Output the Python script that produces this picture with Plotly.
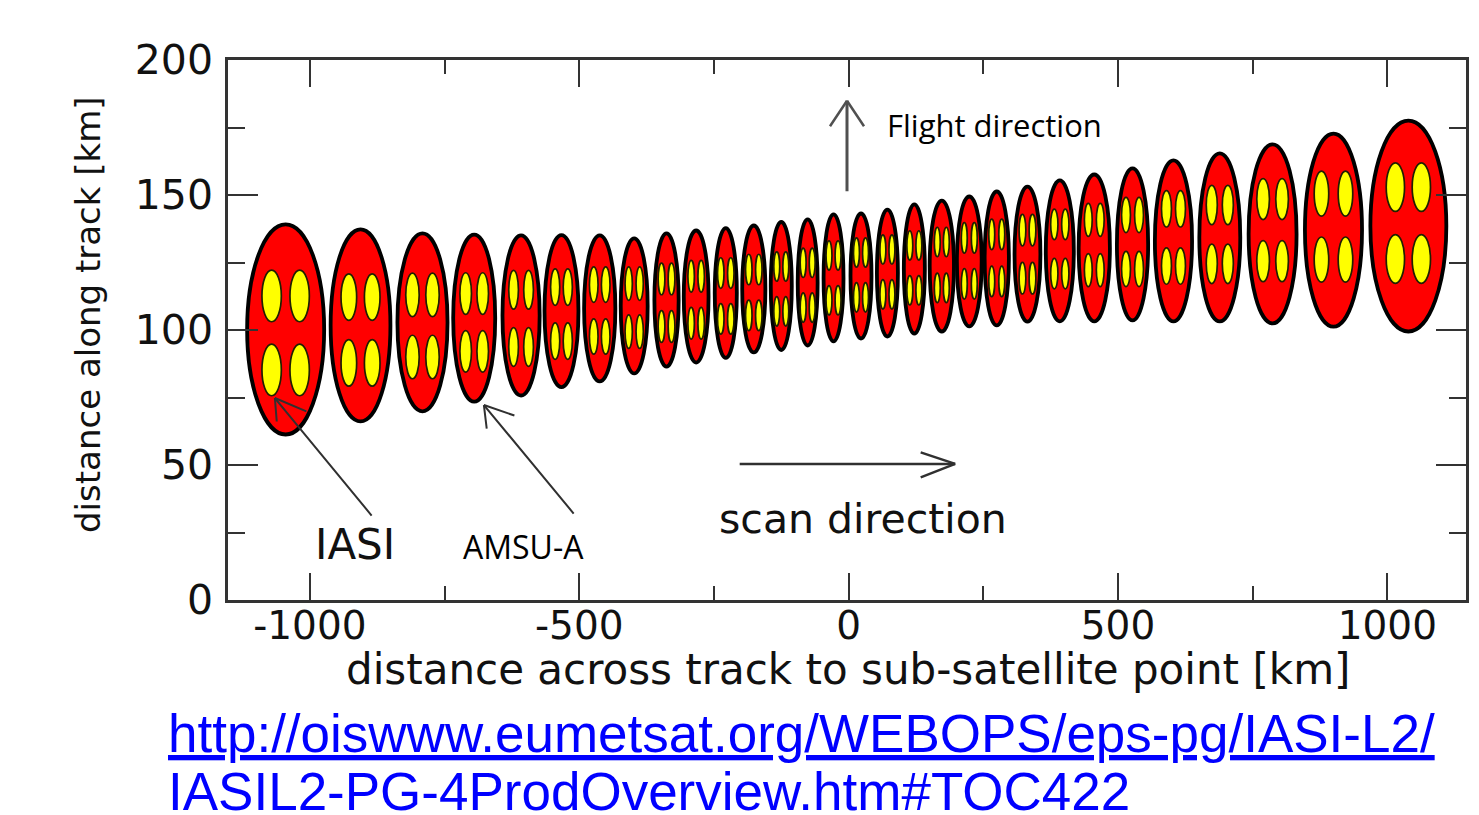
import plotly.graph_objects as go

# ---------------- data (km) ----------------
# AMSU-A footprints: centre across track, centre along track, width, height
amsu_x = [-1045, -906, -791, -695, -608, -533, -462, -398, -338, -283, -228, -176, -125, -76, -28,
          23, 72, 122, 173, 224, 275, 332, 392, 456, 527, 603, 689, 787, 900, 1039]
amsu_y = [100.2, 101.7, 102.8, 104.4, 105.4, 107.0, 108.0, 108.9, 111.1, 112.4, 113.7, 115.2, 116.3, 117.6, 119.3,
          120.0, 121.1, 122.6, 123.7, 125.4, 126.5, 128.1, 129.3, 130.4, 131.7, 133.0, 134.3, 135.6, 137.0, 138.5]
amsu_w = [143, 111, 93, 78, 69, 63, 58, 50, 45, 46, 41, 43, 39, 37, 37,
          39, 39, 39, 45, 46, 45, 48, 52, 58, 58, 69, 76, 89, 106, 141]
amsu_h = [77.8, 71.1, 65.9, 61.9, 59.3, 56.3, 54.1, 50.0, 49.3, 48.9, 48.1, 47.0, 47.4, 46.7, 47.0,
          46.3, 47.0, 47.8, 48.5, 48.1, 49.6, 50.0, 52.2, 54.4, 56.3, 59.6, 62.2, 66.3, 71.5, 78.1]

# IASI 2x2 pixels inside each footprint: group centre (along track), pixel size, offsets
iasi_y = [98.9, 100.0, 101.5, 102.8, 104.3, 105.9, 107.2, 108.3, 110.1, 111.2, 112.6, 113.9, 115.2, 116.6, 119.3,
          120.4, 121.5, 123.0, 124.1, 125.6, 126.7, 128.1, 130.0, 131.5, 132.6, 134.3, 135.4, 137.0, 138.3, 139.6]
iasi_w = [36, 29, 25, 21.5, 18, 17, 16, 13.5, 12.5, 12, 12, 12, 11, 11, 11,
          11, 11, 11, 11, 11, 11, 12.5, 13.5, 14.5, 16.5, 18.5, 20.5, 23.5, 27, 34]
iasi_h = [19.1, 17.2, 16.1, 15.4, 14.3, 13.5, 13.1, 12.4, 11.7, 11.7, 11.3, 11.3, 10.9, 10.9, 10.9,
          10.9, 10.9, 10.9, 10.9, 11.3, 11.3, 11.7, 11.3, 12.2, 13.0, 13.5, 14.6, 15.2, 16.7, 18.0]
iasi_dx = [26, 21.7, 18.6, 15.8, 13.9, 11.7, 11.1, 10.2, 9.3, 9.3, 9.3, 9.3, 8.4, 8.4, 8.4,
           8.4, 8.4, 8.4, 8.4, 9.3, 9.3, 9.3, 10.2, 11.1, 12.1, 13.0, 14.9, 17.6, 22.3, 24.1]
iasi_dy = [13.7, 12.2, 11.5, 10.7, 10.6, 10.0, 9.6, 8.9, 8.8, 8.7, 8.5, 8.5, 8.3, 8.3, 8.3,
           8.3, 8.3, 8.3, 8.5, 8.5, 8.7, 8.9, 9.1, 9.3, 10.0, 10.6, 10.9, 11.5, 12.2, 13.3]

x_ticks = [-1000, -500, 0, 500, 1000]
y_ticks = [0, 50, 100, 150, 200]

x_title = "distance across track to sub-satellite point [km]"
y_title = "distance along track [km]"
url_line1 = "http://oiswww.eumetsat.org/WEBOPS/eps-pg/IASI-L2/"
url_line2 = "IASIL2-PG-4ProdOverview.htm#TOC422"

# ---------------- figure ----------------
W, H = 1479, 815
PL, PR, PT, PB = 228, 1466, 60, 600  # plot area in page pixels


def paper_x(px):
    return (px - PL) / (PR - PL)


def paper_y(py):
    return (PB - py) / (PB - PT)


fig = go.Figure()
# invisible trace so the axes exist
fig.add_trace(go.Scatter(x=amsu_x, y=amsu_y, mode="markers", marker=dict(opacity=0),
                         hoverinfo="skip", showlegend=False))

shapes = []
for i in range(len(amsu_x)):
    cx, cy, w, h = amsu_x[i], amsu_y[i], amsu_w[i], amsu_h[i]
    shapes.append(dict(type="circle", xref="x", yref="y", layer="below",
                       x0=cx - w / 2, x1=cx + w / 2, y0=cy - h / 2, y1=cy + h / 2,
                       fillcolor="#ff0000", line=dict(color="#000000", width=3.8)))
    for sx in (-1, 1):
        for sy in (-1, 1):
            px = cx + sx * iasi_dx[i]
            py = iasi_y[i] + sy * iasi_dy[i]
            shapes.append(dict(type="circle", xref="x", yref="y", layer="below",
                               x0=px - iasi_w[i] / 2, x1=px + iasi_w[i] / 2,
                               y0=py - iasi_h[i] / 2, y1=py + iasi_h[i] / 2,
                               fillcolor="#ffff00", line=dict(color="#202000", width=1.7)))

annotations = []


def arrow(x, y, tail, barbs, color, width, barb_width=None):
    # shaft
    annotations.append(dict(x=x, y=y, xref="x", yref="y", ax=tail[0], ay=tail[1],
                            axref="pixel", ayref="pixel", showarrow=True, arrowhead=0,
                            arrowcolor=color, arrowwidth=width, text="", standoff=0,
                            startstandoff=0))
    for b in barbs:
        annotations.append(dict(x=x, y=y, xref="x", yref="y", ax=b[0], ay=b[1],
                                axref="pixel", ayref="pixel", showarrow=True, arrowhead=0,
                                arrowcolor=color, arrowwidth=barb_width or width, text="",
                                standoff=0, startstandoff=0))


# flight direction arrow
arrow(-3, 184.9, (0, 92), [(-18, 27), (18, 27)], "#505050", 3, 2.5)
# scan direction arrow
arrow(197.8, 50.4, (-217, 0), [(-36, -12), (-36, 14)], "#303030", 2.5)
# IASI pointer
arrow(-1065, 74.8, (98, 119), [(2, 25), (33, 14)], "#303030", 2)
# AMSU-A pointer
arrow(-677, 72.2, (91, 110), [(3, 25), (32, 11)], "#303030", 2)

korean_font = "Open Sans"
plot_font = "DejaVu Sans"
dark = "#111111"

annotations += [
    dict(x=67.8, y=175.9, xref="x", yref="y", text="Flight direction", showarrow=False,
         xanchor="left", yanchor="middle", font=dict(family=korean_font, size=31, color="#000000")),
    dict(x=-603.5, y=20.0, xref="x", yref="y", text="AMSU-A", showarrow=False,
         xanchor="center", yanchor="middle", font=dict(family=korean_font, size=32, color="#000000")),
    dict(x=-915.5, y=20.4, xref="x", yref="y", text="IASI", showarrow=False,
         xanchor="center", yanchor="middle", font=dict(family=plot_font, size=42, color=dark)),
    dict(x=26.9, y=30.0, xref="x", yref="y", text="scan direction", showarrow=False,
         xanchor="center", yanchor="middle", font=dict(family=plot_font, size=41, color=dark)),
    # axis titles
    dict(x=paper_x(848), y=paper_y(669), xref="paper", yref="paper", text=x_title,
         showarrow=False, xanchor="center", yanchor="middle",
         font=dict(family=plot_font, size=42, color=dark)),
    dict(x=paper_x(88), y=paper_y(315), xref="paper", yref="paper", text=y_title,
         showarrow=False, xanchor="center", yanchor="middle", textangle=-90,
         font=dict(family=plot_font, size=34, color=dark)),
    # source link
    dict(x=paper_x(166), y=paper_y(733), xref="paper", yref="paper",
         text="<u>" + url_line1 + "</u>", showarrow=False, xanchor="left", yanchor="middle",
         font=dict(family="Liberation Sans", size=53, color="#0000ff")),
    dict(x=paper_x(166), y=paper_y(791), xref="paper", yref="paper",
         text=url_line2, showarrow=False, xanchor="left", yanchor="middle",
         font=dict(family="Liberation Sans", size=53, color="#0000ff")),
]

axis_color = "#333333"

fig.update_layout(
    width=W, height=H,
    margin=dict(l=PL, r=W - PR, t=PT, b=H - PB, autoexpand=False),
    paper_bgcolor="white", plot_bgcolor="white",
    shapes=shapes, annotations=annotations, showlegend=False,
    xaxis=dict(range=[-1152, 1146], tickvals=x_ticks, ticktext=[str(v) for v in x_ticks],
               ticks="inside", ticklen=27, tickwidth=2, tickcolor=axis_color,
               minor=dict(dtick=250, tick0=0, ticks="inside", ticklen=14, tickwidth=2, tickcolor=axis_color),
               showline=True, linecolor=axis_color, linewidth=2.5, mirror="ticks",
               showgrid=False, zeroline=False,
               tickfont=dict(family=plot_font, size=39, color=dark), ticklabelstandoff=-11),
    yaxis=dict(range=[0, 200], tickvals=y_ticks, ticktext=[str(v) for v in y_ticks],
               ticks="inside", ticklen=30, tickwidth=2, tickcolor=axis_color,
               minor=dict(dtick=25, tick0=0, ticks="inside", ticklen=17, tickwidth=2, tickcolor=axis_color),
               showline=True, linecolor=axis_color, linewidth=2.5, mirror="ticks",
               showgrid=False, zeroline=False,
               tickfont=dict(family=plot_font, size=41, color=dark), ticklabelstandoff=4),
)

fig.write_html("out.html")
